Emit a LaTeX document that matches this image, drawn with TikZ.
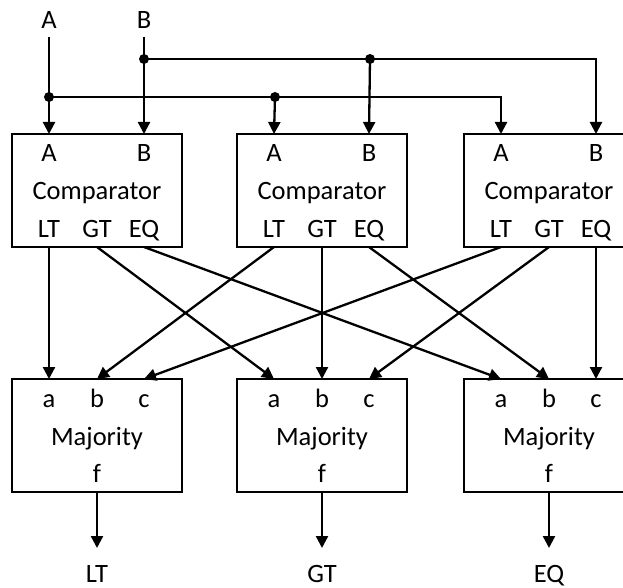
\documentclass[tikz,border=0pt]{standalone}
\usepackage{fontspec}
\setmainfont{Carlito}
\usetikzlibrary{arrows.meta}
\begin{document}
\begin{tikzpicture}[x=1pt,y=-1pt, line width=2.3pt,
  box/.style={draw, line width=2.1pt, minimum width=170pt, minimum height=113pt, inner sep=0pt, outer sep=0pt, anchor=north west},
  lbl/.style={font=\fontsize{26.5}{26.5}\selectfont, inner sep=0pt, anchor=base},
  arr/.style={-{Triangle[width=12pt,length=12pt]}},
  dot/.style={circle, fill, inner sep=0pt, minimum size=10pt}]
\useasboundingbox (0,0) rectangle (623,588);
\clip (0,0) rectangle (623,588);
% boxes
\foreach \i/\x in {1/12,2/237,3/464}{
  \node[box] (c\i) at (\x,134) {};
  \node[box] (m\i) at (\x,379) {};
  \coordinate (c\i A) at ([xshift=-48pt]c\i.north);
  \coordinate (c\i B) at ([xshift=47pt]c\i.north);
  \coordinate (c\i LT) at ([xshift=-48pt]c\i.south);
  \coordinate (c\i GT) at (c\i.south);
  \coordinate (c\i EQ) at ([xshift=47pt]c\i.south);
  \coordinate (m\i a) at ([xshift=-48pt]m\i.north);
  \coordinate (m\i b) at (m\i.north);
  \coordinate (m\i c) at ([xshift=47pt]m\i.north);
  \path (c\i.north) ++(0,27) coordinate (c\i t) ++(0,38) coordinate (c\i m) ++(0,38) coordinate (c\i l);
  \path (m\i.north) ++(0,28) coordinate (m\i t) ++(0,38) coordinate (m\i m) ++(0,37) coordinate (m\i l);
  \node[lbl] (c\i tA) at ([xshift=-48pt]c\i t) {A};
  \node[lbl] (c\i tB) at ([xshift=47pt]c\i t) {B};
  \node[lbl] (c\i name) at (c\i m) {Comparator};
  \node[lbl] (c\i tLT) at ([xshift=-48pt]c\i l) {LT};
  \node[lbl] (c\i tGT) at (c\i l) {GT};
  \node[lbl] (c\i tEQ) at ([xshift=47pt]c\i l) {EQ};
  \node[lbl] (m\i ta) at ([xshift=-48pt]m\i t) {a};
  \node[lbl] (m\i tb) at (m\i t) {b};
  \node[lbl] (m\i tc) at ([xshift=47pt]m\i t) {c};
  \node[lbl] (m\i name) at (m\i m) {Majority};
  \node[lbl] (m\i tf) at (m\i l) {f};
}
% inputs
\node[lbl] (Alab) at (49,29) {A};
\node[lbl] (Blab) at (144,29) {B};
\coordinate (Ain) at (49,37);
\coordinate (Bin) at (144,37);
\node[dot] (dA1) at (49,97) {};
\node[dot] (dA2) at (275,97) {};
\node[dot] (dB1) at (144,59) {};
\node[dot] (dB2) at (370,59) {};
\draw[arr] (Ain) -- (c1A);
\draw[arr] (Bin) -- (c1B);
\draw[arr] (dA1.center) -| (c3A);
\draw[arr] (dA2.center) -- (c2A);
\draw[arr] (dB1.center) -| (c3B);
\draw[arr] (dB2.center) -- (c2B);
% crossing
\draw[arr] (c1LT) -- (m1a);
\draw[arr] (c1GT) -- (m2a);
\draw[arr] (c1EQ) -- (m3a);
\draw[arr] (c2LT) -- (m1b);
\draw[arr] (c2GT) -- (m2b);
\draw[arr] (c2EQ) -- (m3b);
\draw[arr] (c3LT) -- (m1c);
\draw[arr] (c3GT) -- (m2c);
\draw[arr] (c3EQ) -- (m3c);
% outputs
\foreach \i/\t in {1/LT,2/GT,3/EQ}{
  \path (m\i.south) ++(0,56) coordinate (o\i) ++(0,34) coordinate (ol\i);
  \node[lbl] (out\i) at (ol\i) {\t};
  \draw[arr] (m\i.south) -- (o\i);
}
\end{tikzpicture}
\end{document}
